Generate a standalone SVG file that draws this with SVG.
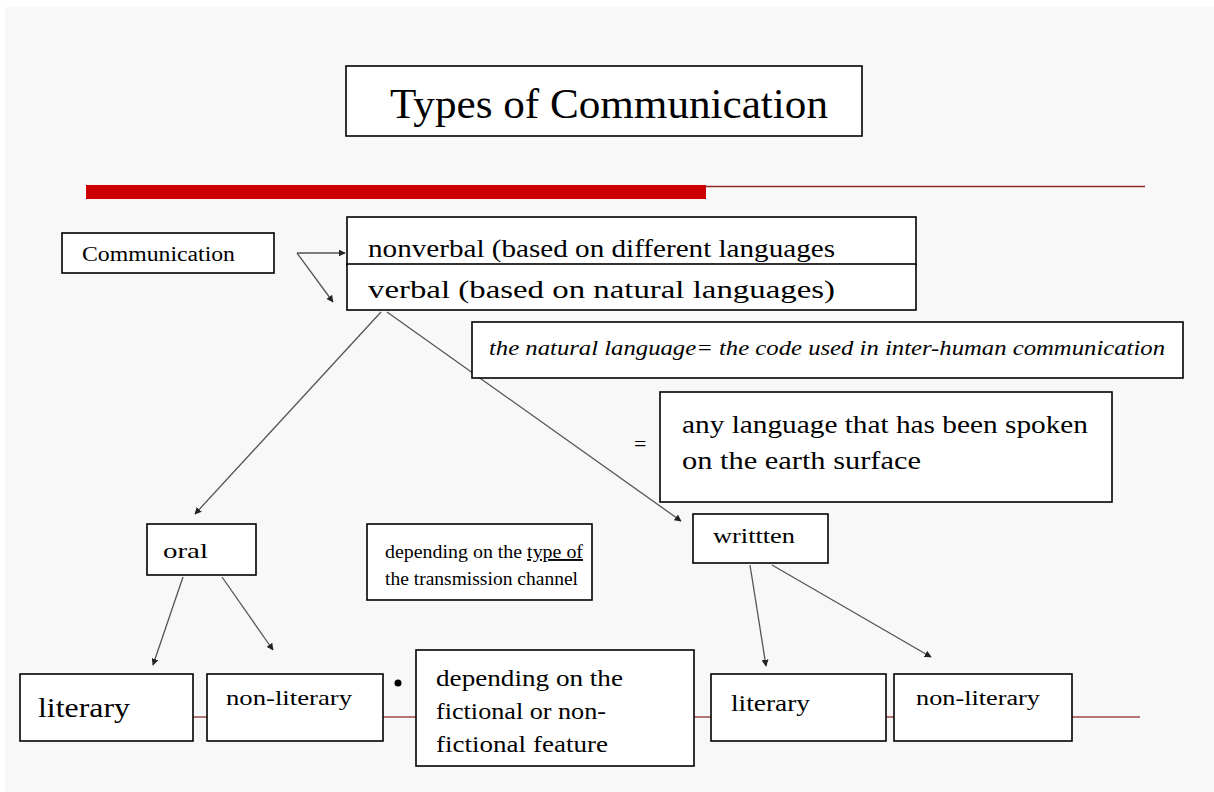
<svg xmlns="http://www.w3.org/2000/svg" width="1214" height="792" viewBox="0 0 1214 792">
<style>
.box{fill:#ffffff;stroke:#000000;stroke-width:1.6}
text{font-family:"Liberation Serif","Times New Roman",serif;fill:#000000}
.c{stroke:#555555;stroke-width:1.3;fill:none;marker-end:url(#ah)}
</style>
<defs>
<marker id="ah" viewBox="0 0 10 10" refX="9" refY="5" markerWidth="7" markerHeight="7" markerUnits="userSpaceOnUse" orient="auto">
<path d="M0,0 L10,5 L0,10 z" fill="#222222"/>
</marker>
</defs>
<rect x="0" y="0" width="1214" height="792" fill="#ffffff"/>
<rect x="5" y="7" width="1209" height="785" fill="#f8f8f8"/>
<g id="decor">
<rect x="86" y="185" width="620" height="14" fill="#cc0000"/>
<line x1="705" y1="186.5" x2="1145" y2="186.5" stroke="#8a2a2a" stroke-width="1.3"/>
<line x1="193" y1="717" x2="1140" y2="717" stroke="#a04a4a" stroke-width="1.3"/>
<circle cx="398" cy="683" r="3.5" fill="#000"/>
<text x="634" y="451" font-size="22" fill="#555">=</text>
</g>
<g id="connectors">
<path class="c" d="M297,253 L345,253"/>
<path class="c" d="M297,253 L333,302"/>
<path class="c" d="M381,312 L195,514"/>
<path class="c" d="M387,312 L681,521"/>
<path class="c" d="M183,577 L153,665"/>
<path class="c" d="M222,577 L273,650"/>
<path class="c" d="M750,565 L766,666"/>
<path class="c" d="M772,565 L931,657"/>
</g>
<g id="title"><rect class="box" x="346" y="66" width="516" height="70"/><text x="390" y="118" font-size="43" textLength="438" lengthAdjust="spacingAndGlyphs">Types of Communication</text></g>
<g id="communication"><rect class="box" x="62" y="233" width="212" height="40"/><text x="82" y="261" font-size="20" textLength="153" lengthAdjust="spacingAndGlyphs">Communication</text></g>
<g id="nonverbal"><rect class="box" x="347" y="217" width="569" height="48"/><text x="368" y="257" font-size="25" textLength="467" lengthAdjust="spacingAndGlyphs">nonverbal (based on different languages</text></g>
<g id="verbal"><rect class="box" x="347" y="264" width="569" height="46"/><text x="368" y="298" font-size="25" textLength="467" lengthAdjust="spacingAndGlyphs">verbal (based on natural languages)</text></g>
<g id="natural"><rect class="box" x="472" y="322" width="711" height="56"/><text x="489" y="355" font-size="22" font-style="italic" textLength="676" lengthAdjust="spacingAndGlyphs">the natural language= the code used in inter-human communication</text></g>
<g id="anylanguage"><rect class="box" x="660" y="392" width="452" height="110"/><text x="682" y="433" font-size="26" textLength="406" lengthAdjust="spacingAndGlyphs">any language that has been spoken</text><text x="682" y="469" font-size="26" textLength="239" lengthAdjust="spacingAndGlyphs">on the earth surface</text></g>
<g id="oral"><rect class="box" x="147" y="524" width="109" height="51"/><text x="163" y="558" font-size="22" textLength="45" lengthAdjust="spacingAndGlyphs">oral</text></g>
<g id="channel"><rect class="box" x="367" y="524" width="225" height="76"/><text x="385" y="558" font-size="19" textLength="198" lengthAdjust="spacingAndGlyphs">depending on the <tspan text-decoration="underline">type of</tspan></text><text x="385" y="585" font-size="19" textLength="193" lengthAdjust="spacingAndGlyphs">the transmission channel</text></g>
<g id="written"><rect class="box" x="693" y="514" width="135" height="49"/><text x="713" y="543" font-size="21" textLength="82" lengthAdjust="spacingAndGlyphs">writtten</text></g>
<g id="literary1"><rect class="box" x="20" y="674" width="173" height="67"/><text x="38" y="717" font-size="27" textLength="92" lengthAdjust="spacingAndGlyphs">literary</text></g>
<g id="nonliterary1"><rect class="box" x="207" y="674" width="176" height="67"/><text x="226" y="705" font-size="21" textLength="126" lengthAdjust="spacingAndGlyphs">non-literary</text></g>
<g id="fictional"><rect class="box" x="416" y="650" width="278" height="116"/><text x="436" y="686" font-size="23" textLength="187" lengthAdjust="spacingAndGlyphs">depending on the</text><text x="436" y="719" font-size="23" textLength="170" lengthAdjust="spacingAndGlyphs">fictional or non-</text><text x="436" y="752" font-size="23" textLength="172" lengthAdjust="spacingAndGlyphs">fictional feature</text></g>
<g id="literary2"><rect class="box" x="711" y="674" width="175" height="67"/><text x="731" y="711" font-size="23" textLength="79" lengthAdjust="spacingAndGlyphs">literary</text></g>
<g id="nonliterary2"><rect class="box" x="894" y="674" width="178" height="67"/><text x="916" y="705" font-size="20" textLength="124" lengthAdjust="spacingAndGlyphs">non-literary</text></g>
</svg>
